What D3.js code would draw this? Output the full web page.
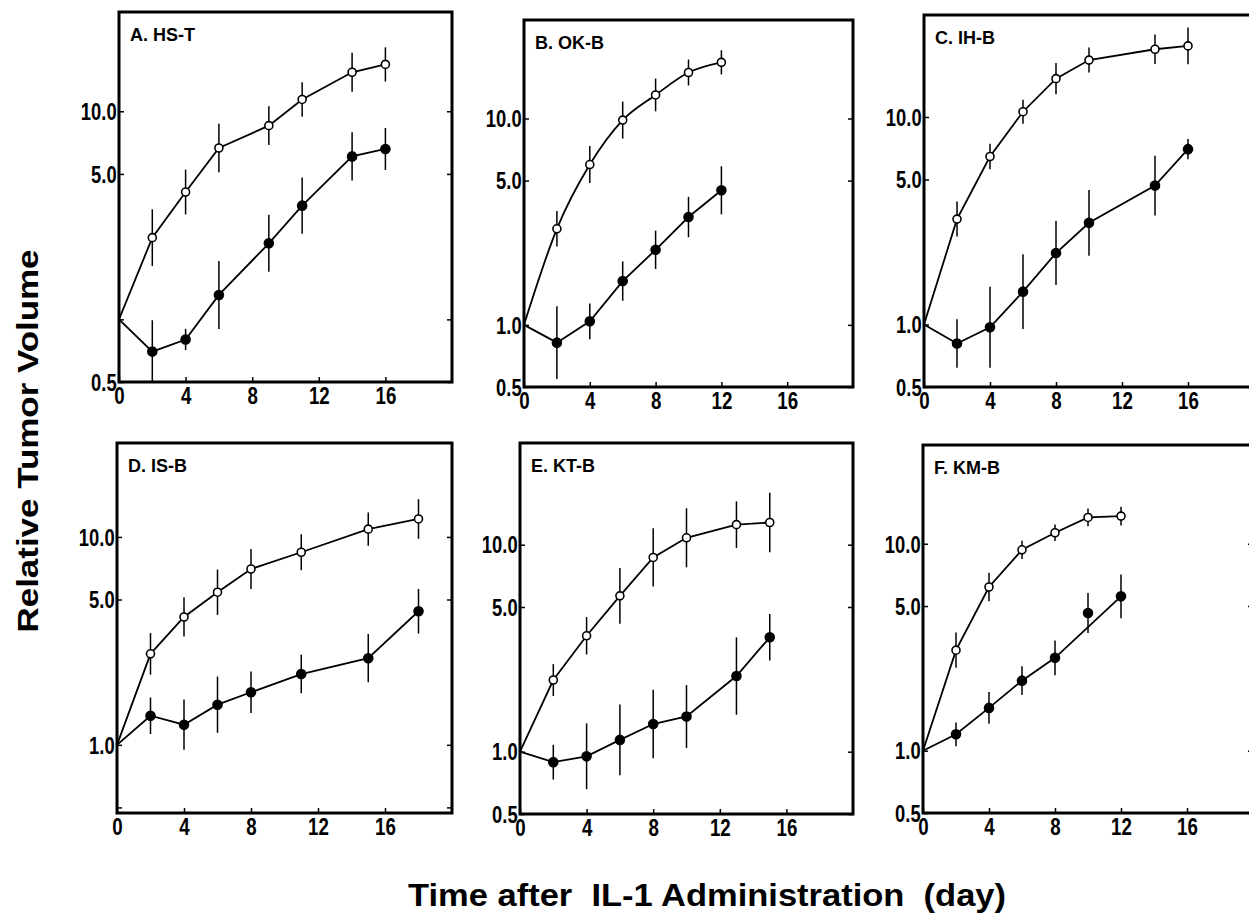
<!DOCTYPE html>
<html>
<head>
<meta charset="utf-8">
<script src="https://cdnjs.cloudflare.com/ajax/libs/d3/7.8.5/d3.min.js"></script>
<style>
  body { margin: 0; background: #fff; }
  svg text { font-family: "Liberation Sans", Arial, sans-serif; font-weight: bold; }
</style>
</head>
<body>
<div id="main"></div>
<script>
// panel titles
const titles = ['A. HS-T', 'B. OK-B', 'C. IH-B', 'D. IS-B', 'E. KT-B', 'F. KM-B'];

// days of measurement
const daysA = [0, 2, 4, 6, 9, 11, 14, 16];
const daysB = [0, 2, 4, 6, 8, 10, 12];
const daysC = [0, 2, 4, 6, 8, 10, 14, 16];
const daysD = [0, 2, 4, 6, 8, 11, 15, 18];
const daysE = [0, 2, 4, 6, 8, 10, 13, 15];
const daysF = [0, 2, 4, 6, 8, 10, 12];

// open circles: mean and top of error bar
const openA = [1, 2.47, 4.09, 6.66, 8.53, 11.4, 15.4, 16.8];
const openHiA = [1, 3.38, 5.24, 8.72, 10.57, 13.8, 19.1, 20.3];
const openB = [1, 2.92, 5.98, 9.82, 13.0, 16.7, 18.7];
const openHiB = [1, 3.56, 7.35, 12.07, 15.6, 19.3, 21.4];
const openC = [1, 3.22, 6.45, 10.6, 15.3, 18.8, 21.2, 22.0];
const openHiC = [1, 3.91, 7.43, 12.1, 18.2, 21.6, 25.0, 27.0];
const openD = [1, 2.74, 4.12, 5.42, 7.01, 8.44, 10.9, 12.2];
const openHiD = [1, 3.45, 5.12, 6.97, 8.75, 10.3, 13.1, 15.2];
const openE = [1, 2.22, 3.63, 5.66, 8.68, 10.8, 12.5, 12.8];
const openHiE = [1, 2.65, 4.47, 7.71, 12.0, 15.0, 16.2, 17.8];
const openF = [1, 3.06, 6.18, 9.35, 11.3, 13.4, 13.6];
const openHiF = [1, 3.72, 7.24, 10.35, 12.4, 14.8, 15.1];

// closed circles: mean and top of error bar
const closedA = [1, 0.70, 0.80, 1.31, 2.32, 3.52, 6.07, 6.59];
const closedHiA = [1, 0.99, 0.90, 1.91, 3.18, 4.81, 7.92, 8.31];
const closedB = [1, 0.82, 1.04, 1.63, 2.31, 3.33, 4.49];
const closedHiB = [1, 1.23, 1.27, 2.03, 2.86, 4.17, 5.87];
const closedC = [1, 0.81, 0.97, 1.44, 2.21, 3.09, 4.67, 7.0];
const closedHiC = [1, 1.06, 1.52, 2.18, 3.15, 4.45, 6.5, 7.83];
const closedD = [1, 1.38, 1.25, 1.56, 1.79, 2.19, 2.61, 4.39];
const closedHiD = [1, 1.69, 1.65, 2.13, 2.25, 2.71, 3.41, 5.62];
const closedE = [1, 0.89, 0.95, 1.14, 1.36, 1.48, 2.32, 3.57];
const closedHiE = [1, 1.08, 1.37, 1.69, 1.99, 2.10, 3.57, 4.62];
const closedF = [1, 1.2, 1.61, 2.18, 2.81, 4.63, 5.57];
const closedHiF = [1, 1.37, 1.92, 2.56, 3.41, 5.78, 7.1];

// tick values
const xTicks = [0, 4, 8, 12, 16];
const yTicks = [0.5, 1, 5, 10];
const yLabelsA = [10, 5, 0.5];
const yLabelsD = [10, 5, 1];
const yLabelsOther = [10, 5, 1, 0.5];

const panels = [
  {title: titles[0], days: daysA, open: openA, openHi: openHiA, closed: closedA, closedHi: closedHiA, labels: yLabelsA},
  {title: titles[1], days: daysB, open: openB, openHi: openHiB, closed: closedB, closedHi: closedHiB, labels: yLabelsOther, smooth: true},
  {title: titles[2], days: daysC, open: openC, openHi: openHiC, closed: closedC, closedHi: closedHiC, labels: yLabelsOther},
  {title: titles[3], days: daysD, open: openD, openHi: openHiD, closed: closedD, closedHi: closedHiD, labels: yLabelsD},
  {title: titles[4], days: daysE, open: openE, openHi: openHiE, closed: closedE, closedHi: closedHiE, labels: yLabelsOther},
  // the day-10 closed point sits off the drawn line
  {title: titles[5], days: daysF, open: openF, openHi: openHiF, closed: closedF, closedHi: closedHiF, labels: yLabelsOther, skip: [5]}
];

// layout: box = [left, top, right, bottom], y range of each box
const layout = [
  {box: [119, 12, 452, 382], yDom: [0.5, 30]},
  {box: [524, 20, 853, 387], yDom: [0.5, 30]},
  {box: [924, 15, 1254, 387], yDom: [0.5, 31]},
  {box: [117, 443, 452, 813], yDom: [0.47, 28.3]},
  {box: [520, 443, 853, 814], yDom: [0.5, 31]},
  {box: [923, 445, 1253, 813], yDom: [0.5, 30]}
];

const width = 1249;
const height = 913;

const svg = d3.select('#main')
  .append('svg')
  .attr('width', width)
  .attr('height', height);

panels.forEach((p, k) => {
  const [x0, y0, x1, y1] = layout[k].box;
  const w = x1 - x0;
  const h = y1 - y0;
  const x = d3.scaleLinear().domain([0, 20]).range([0, w]);
  const y = d3.scaleLog().domain(layout[k].yDom).range([h, 0]);

  const g = svg.append('g').attr('transform', `translate(${x0},${y0})`);

  // axes, ticks point inward
  const fmt = (d) => p.labels.includes(d) ? d.toFixed(1) : '';
  const yVals = yTicks.filter(v => v >= layout[k].yDom[0]);
  const yAxis = g.append('g')
    .call(d3.axisLeft(y).tickValues(yVals).tickFormat(fmt).tickSizeInner(-5).tickSizeOuter(0).tickPadding(2));
  const xAxis = g.append('g')
    .attr('transform', `translate(0,${h})`)
    .call(d3.axisBottom(x).tickValues(xTicks).tickFormat(d3.format('d')).tickSizeInner(-5).tickSizeOuter(0).tickPadding(5));
  const rAxis = g.append('g')
    .attr('transform', `translate(${w},0)`)
    .call(d3.axisRight(y).tickValues(yVals).tickFormat('').tickSizeInner(-5).tickSizeOuter(0));

  [yAxis, xAxis, rAxis].forEach(a => {
    a.select('.domain').remove();
    a.selectAll('line').attr('stroke', '#000').attr('stroke-width', 1.5);
    a.selectAll('text').attr('fill', '#000').style('font-size', '23px');
  });
  // narrow, tall digits like the printed figure
  yAxis.selectAll('text').attr('dy', '0.36em').attr('x', -3).attr('transform', 'scale(0.8,1)');
  xAxis.selectAll('text').style('font-size', '24px').attr('transform', 'scale(0.78,1)');

  g.append('rect')
    .attr('width', w)
    .attr('height', h)
    .attr('fill', 'none')
    .attr('stroke', '#000')
    .attr('stroke-width', 3);

  g.append('text')
    .attr('x', 11)
    .attr('y', 29)
    .style('font-size', '18px')
    .text(p.title);

  const series = [
    {vals: p.open, hi: p.openHi, filled: false, curve: p.smooth ? d3.curveMonotoneX : d3.curveLinear, skip: []},
    {vals: p.closed, hi: p.closedHi, filled: true, curve: d3.curveLinear, skip: p.skip || []}
  ];

  series.forEach(s => {
    const pts = p.days.map((d, i) => ({d, v: s.vals[i], hi: s.hi[i], i}));

    const line = d3.line()
      .x(q => x(q.d))
      .y(q => y(q.v))
      .curve(s.curve);

    g.append('path')
      .datum(pts.filter(q => !s.skip.includes(q.i)))
      .attr('d', line)
      .attr('fill', 'none')
      .attr('stroke', '#000')
      .attr('stroke-width', 1.8);

    // error bars, symmetric on the log axis
    g.selectAll(null)
      .data(pts.slice(1))
      .enter()
      .append('line')
      .attr('x1', q => x(q.d))
      .attr('x2', q => x(q.d))
      .attr('y1', q => y(q.hi))
      .attr('y2', q => y(q.v * q.v / q.hi))
      .attr('stroke', '#000')
      .attr('stroke-width', 1.5);

    g.selectAll(null)
      .data(pts.slice(1))
      .enter()
      .append('circle')
      .attr('cx', q => x(q.d))
      .attr('cy', q => y(q.v))
      .attr('r', s.filled ? 4.5 : 4)
      .attr('fill', s.filled ? '#000' : '#fff')
      .attr('stroke', '#000')
      .attr('stroke-width', 1.6);
  });
});

svg.append('text')
  .attr('transform', 'translate(38,441) rotate(-90)')
  .attr('text-anchor', 'middle')
  .attr('textLength', 383)
  .attr('lengthAdjust', 'spacingAndGlyphs')
  .style('font-size', '30px')
  .text('Relative Tumor Volume');

svg.append('text')
  .attr('x', 408)
  .attr('y', 906)
  .attr('textLength', 598)
  .attr('lengthAdjust', 'spacingAndGlyphs')
  .style('white-space', 'pre')
  .style('font-size', '32px')
  .text('Time after  IL-1 Administration  (day)');
</script>
</body>
</html>
